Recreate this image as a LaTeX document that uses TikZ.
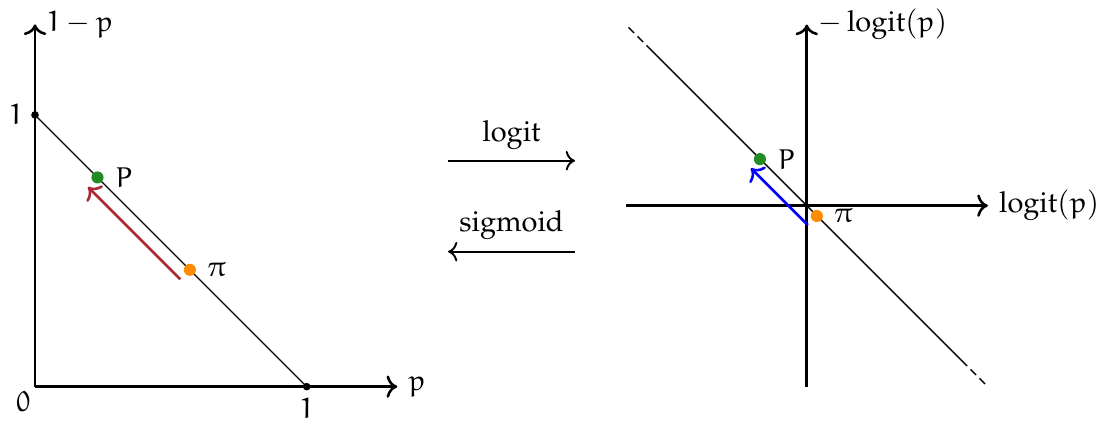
\documentclass[tikz,border=0pt]{standalone}
\usepackage[T1]{fontenc}
\usepackage{amsmath}
\usepackage{mathpazo}
\usepackage{xcolor}
\usepackage{tikz}
\usetikzlibrary{arrows.meta,positioning}
\DeclareMathAlphabet{\mathe}{U}{eur}{m}{n}
\DeclareSymbolFont{eulerletters}{U}{eur}{m}{n}
\DeclareMathSymbol{\epi}{\mathord}{eulerletters}{"19}
\definecolor{pointgreen}{RGB}{34,139,34}
\definecolor{pointorange}{RGB}{255,140,0}
\definecolor{movered}{RGB}{170,40,50}

\begin{document}
\begin{tikzpicture}[
  every node/.style={font=\fontsize{9.1pt}{11pt}\selectfont},
  axis/.style={->, thick},
  curve/.style={thin},
  tickdot/.style={circle, fill=black, inner sep=0pt, minimum size=2.4pt},
  point/.style={circle, inner sep=0pt, minimum size=3.8pt},
  maparrow/.style={->, semithick},
  move/.style={->, thick},
  fadeend/.style={thin, dash pattern=on 2.5pt off 1.5pt, dash phase=2.5pt}
]
\useasboundingbox (0,0) rectangle (12.168,4.648);

% probability simplex
\begin{scope}[shift={(0.3865,0.3787)}, x=3cm, y=3cm]
  \node[inner sep=0pt, label={[label distance=-4pt]below left:$\mathe{0}$}] (origin) at (0,0) {};
  \coordinate (xend) at (4/3,0);
  \coordinate (yend) at (0,4/3);
  \draw[axis] (origin.center) -- (xend);
  \draw[axis] (origin.center) -- (yend);
  \node[right] (xlabel) at (xend) {$\mathe{p}$};
  \node[right] (ylabel) at (yend) {$\mathe{1}-\mathe{p}$};

  \node[tickdot, label={[label distance=-1.2pt]left:$\mathe{1}$}] (oney) at (0,1) {};
  \node[tickdot, label={[label distance=-1.2pt]below:$\mathe{1}$}] (onex) at (1,0) {};
  \draw[curve] (oney.center) -- (onex.center);

  \node[point, fill=pointgreen, label=right:$\mathe{P}$] (P) at (0.23,0.77) {};
  \node[point, fill=pointorange, label=right:$\epi$] (pi) at (0.57,0.43) {};
  \draw[move, movered] ([shift={(-0.035,-0.035)}]pi.center) -- ([shift={(-0.035,-0.035)}]P.center);
\end{scope}

% maps between the two pictures
\coordinate (fwdA) at (4.947,2.873);
\coordinate (fwdB) at (6.349,2.873);
\coordinate (bwdA) at (6.349,1.869);
\coordinate (bwdB) at (4.947,1.869);
\draw[maparrow] (fwdA) -- node[above] (logitlabel) {logit} (fwdB);
\draw[maparrow] (bwdA) -- node[above] (sigmoidlabel) {sigmoid} (bwdB);

% logit coordinates
\begin{scope}[shift={(8.908,2.377)}]
  \coordinate (hstart) at (-2,0);
  \coordinate (hend) at (2,0);
  \coordinate (vstart) at (0,-2);
  \coordinate (vend) at (0,2);
  \draw[axis] (hstart) -- (hend);
  \draw[axis] (vstart) -- (vend);
  \node[right] (hlabel) at (hend) {$\operatorname{logit}(\mathe{p})$};
  \node[right] (vlabel) at (vend) {$-\operatorname{logit}(\mathe{p})$};

  \coordinate (dtop) at (-1.77,1.77);
  \coordinate (dbot) at (1.77,-1.77);
  \draw[curve] (dtop) -- (dbot);
  \draw[fadeend] (dtop) -- (-2,2);
  \draw[fadeend] (dbot) -- (2,-2);

  \node[point, fill=pointgreen, label=right:$\mathe{P}$] (Q) at (-0.517,0.514) {};
  \node[point, fill=pointorange, label=right:$\epi$] (rho) at (0.111,-0.114) {};
  \draw[move, blue] ([shift={(-0.1,-0.1)}]rho.center) -- ([shift={(-0.1,-0.1)}]Q.center);
\end{scope}

\end{tikzpicture}
\end{document}
